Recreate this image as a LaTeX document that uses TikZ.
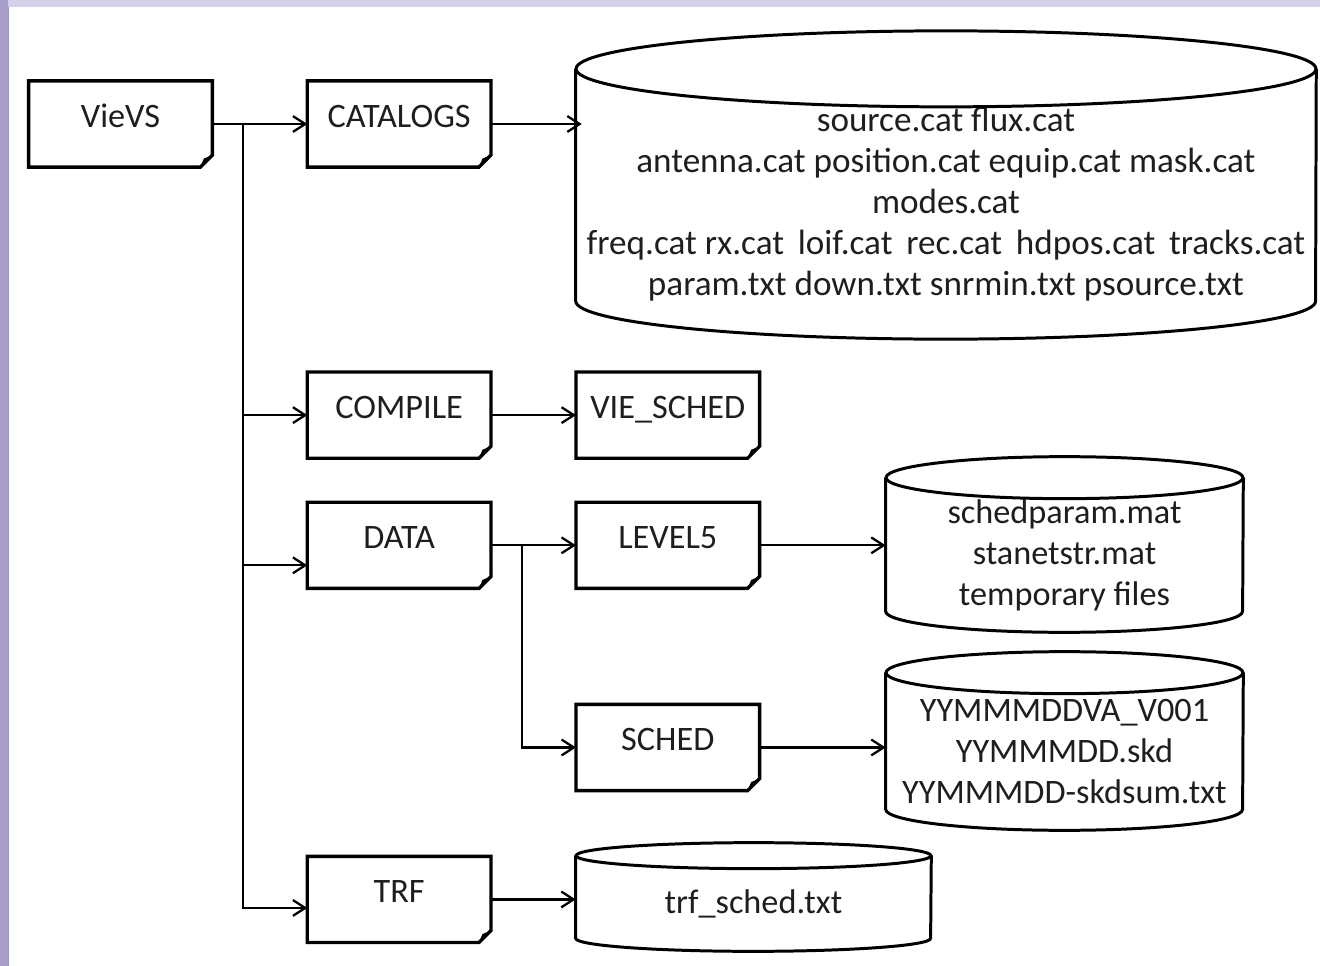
\documentclass[tikz,border=0pt]{standalone}
\usepackage{fontspec}
\setmainfont{Carlito}
\usetikzlibrary{arrows.meta, positioning, calc}

\definecolor{frametop}{HTML}{D4D1E8}
\definecolor{frameleft}{HTML}{A99ECB}
\definecolor{frameline}{HTML}{8E9DC2}
\definecolor{ink}{HTML}{1E1E1E}

\begin{document}
\begin{tikzpicture}[
  x=0.02cm, y=-0.02cm,
  font=\fontsize{19.5}{23.3}\selectfont,
  folder/.style={rectangle, minimum width=3.66cm, minimum height=1.71cm, inner sep=0pt,
    text height=0.92cm, text depth=0.79cm, text=ink},
  fold/.style={line width=1.9pt},
  store/.style={rectangle, align=center, text=ink, inner sep=0pt},
  storeline/.style={line width=1.7pt},
  arrow/.style={-{Straight Barb[length=7pt, width=9pt]}, line width=1.3pt},
]

% frame of the slide
\useasboundingbox (0,0) rectangle (1320,966);
\fill[frametop] (0,0) rectangle (1320,7);
\fill[frameleft] (0,0) rectangle (8,966);
\draw[frameline, line width=0.8pt] (8.6,7) -- (8.6,966);

% Folders
\node[folder] (vievs) at (120.5,124) {VieVS};
\node[folder, right=1.9cm of vievs] (catalogs) {CATALOGS};
\node[folder, below=4.1cm of catalogs] (compile) {COMPILE};
\node[folder, below=0.88cm of compile] (data) {DATA};
\node[folder, below=5.36cm of data] (trf) {TRF};
\node[folder, right=1.7cm of compile] (vieshed) {VIE\_SCHED};
\node[folder, right=1.7cm of data] (level5) {LEVEL5};
\node[folder, below=2.32cm of level5] (sched) {SCHED};

\foreach \n in {vievs, catalogs, compile, vieshed, data, level5, sched, trf} {
  \draw[fold] (\n.north west) -- (\n.north east) -- ([yshift=0.24cm]\n.south east)
    -- ([xshift=-0.24cm]\n.south east) -- (\n.south west) -- cycle;
  \fill ([yshift=0.24cm]\n.south east) -- ([xshift=-0.24cm]\n.south east)
    -- ([shift={(-0.17cm,0.17cm)}]\n.south east) -- cycle;
}

% Files (body of each cylinder, below its lid)
\node[store, minimum width=14.8cm, minimum height=3.86cm, font=\fontsize{20}{23.3}\selectfont]
  (catfiles) at (946,204)
  {source.cat flux.cat\\ antenna.cat position.cat equip.cat mask.cat\\ modes.cat\\
   freq.cat rx.cat\, loif.cat\, rec.cat\, hdpos.cat\, tracks.cat\\ param.txt down.txt snrmin.txt psource.txt};
\node[store, minimum width=7.14cm, minimum height=2.24cm] (lvlfiles) at (1064.5,555)
  {schedparam.mat\\ stanetstr.mat\\ temporary files};
\node[store, minimum width=7.14cm, minimum height=2.3cm] (schedfiles) at (1064.5,751.5)
  {YYMMMDDVA\_V001\\ YYMMMDD.skd\\ YYMMMDD-skdsum.txt};
\node[store, minimum width=7.1cm, minimum height=1.38cm] (trffiles) at (753.5,903.5)
  {trf\_sched.txt};

\foreach \n/\a/\r in {catfiles/7.4cm/0.76cm, lvlfiles/3.57cm/0.42cm,
    schedfiles/3.57cm/0.42cm, trffiles/3.55cm/0.26cm} {
  \draw[storeline] ([yshift=\r]\n.north) ellipse [x radius=\a, y radius=\r];
  \draw[storeline] ([yshift=\r]\n.north west) -- (\n.south west)
    arc [start angle=180, end angle=360, x radius=\a, y radius=\r]
    -- ([yshift=\r]\n.north east);
}

% Connections
\coordinate[right=0.62cm of vievs.east] (trunk);
\coordinate[right=0.62cm of data.east] (split);

\draw[arrow] (vievs) -- (catalogs);
\draw[arrow] (trunk) |- (compile);
\draw[arrow] (trunk) |- ([yshift=-0.4cm]data.west);
\draw[arrow] (trunk) |- ([yshift=-0.17cm]trf.west);

\draw[arrow, shorten >=-0.12cm] (catalogs.east) -- (catalogs.east -| catfiles.west);
\draw[arrow] (compile) -- (vieshed);
\draw[arrow] (data) -- (level5);
\draw[arrow] (split) |- (sched);
\draw[arrow] (level5.east) -- (level5.east -| lvlfiles.west);
\draw[arrow] (sched.east) -- (sched.east -| schedfiles.west);
\draw[arrow] (trf.east) -- (trf.east -| trffiles.west);

\end{tikzpicture}
\end{document}
